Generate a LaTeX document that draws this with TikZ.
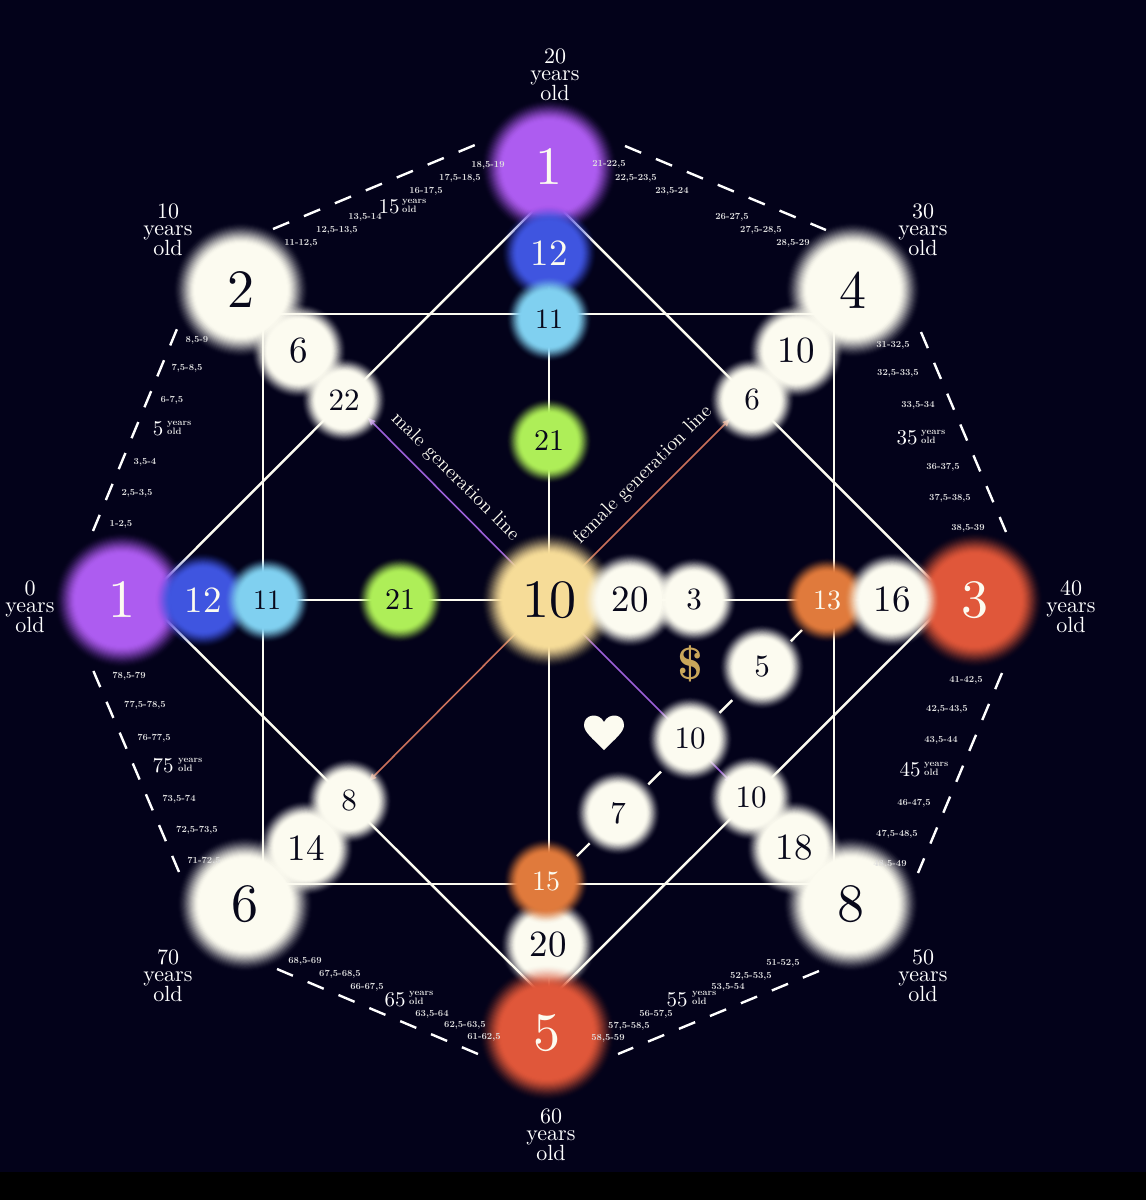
\documentclass[tikz,border=0pt]{standalone}
\usepackage{fontspec}
\setmainfont{lmroman10-regular.otf}
\newfontfamily\boldrm{lmroman10-bold.otf}
\usetikzlibrary{arrows.meta}
\definecolor{cBack}{HTML}{03021A}
\definecolor{cPurple}{HTML}{AD5CF0}
\definecolor{cBlue}{HTML}{3F55E0}
\definecolor{cRed}{HTML}{E0573A}
\definecolor{cCream}{HTML}{FCFBF0}
\definecolor{cSand}{HTML}{F6DC98}
\definecolor{cOrange}{HTML}{E07A3C}
\definecolor{cCyan}{HTML}{80D0F0}
\definecolor{cGreen}{HTML}{AEEE58}
\definecolor{cGold}{HTML}{C9A65A}
\definecolor{cInk}{HTML}{08081A}
\definecolor{cMaleLine}{HTML}{9B5FD8}
\definecolor{cFemaleLine}{HTML}{C9705A}
\definecolor{cSmall}{HTML}{DEDEDE}
% outer radius, inner radius, font size, name, centre, fill, text colour, label
\newcommand\softdisc[8]{%
  \foreach \k in {1,...,22}{%
    \pgfmathsetmacro\rr{#1-(\k-1)*(#1-#2)/21}%
    \pgfmathsetmacro\xa{(\k-1)/22}%
    \pgfmathsetmacro\xb{\k/22}%
    \pgfmathsetmacro\ta{3*\xa*\xa-2*\xa*\xa*\xa}%
    \pgfmathsetmacro\tb{3*\xb*\xb-2*\xb*\xb*\xb}%
    \pgfmathsetmacro\aa{(\tb-\ta)/(1-\ta)}%
    \fill[#6,fill opacity=\aa] (#5) circle[radius=\rr];
  }
  \node[disclabel,text=#7,font=\fontsize{#3}{#3}\selectfont] (#4) at (#5) {#8};
}
\newcommand\bigdisc{\softdisc{68}{46}{54}}
\newcommand\middisc{\softdisc{48}{32}{37}}
\newcommand\smalldisc{\softdisc{43}{28}{31}}
\tikzset{
  x=1pt,y=-1pt,
  disclabel/.style={circle,inner sep=0pt},
  netline/.style={draw=cCream,line width=2.4pt},
  agedash/.style={draw=white,line width=2.4pt,dash pattern=on 17.5pt off 16pt},
  malearrow/.style={draw=cMaleLine,line width=1.6pt,-{Latex[length=9pt,width=7pt]}},
  femalearrow/.style={draw=cFemaleLine,line width=1.6pt,-{Latex[length=9pt,width=7pt]}},
  agelabel/.style={text=cSmall,inner sep=0pt,yshift=-1pt,font=\boldrm\fontsize{9.3}{10}\selectfont},
  midage/.style={text=white,inner sep=0pt,font=\fontsize{21}{21}\selectfont},
  yearsold/.style={text=cSmall,inner sep=0pt,anchor=west,align=left,font=\boldrm\fontsize{9.3}{9.6}\selectfont},
  corner/.style={text=white,inner sep=0pt,align=center,font=\fontsize{22}{16.4}\selectfont},
  linelabel/.style={text=cCream,inner sep=0pt,font=\fontsize{19.5}{20}\selectfont},
}
\begin{document}
\begin{tikzpicture}
\useasboundingbox (0,0) rectangle (1146,1200);
\fill[cBack] (0,0) rectangle (1146,1172);
\fill[black] (0,1172) rectangle (1146,1200);

% network anchors
\coordinate (dT) at (548,196);
\coordinate (dR) at (950.5,599);
\coordinate (dB) at (548,1001);
\coordinate (dL) at (145.5,599);
\coordinate (sTL) at (263,314);
\coordinate (sTR) at (834,314);
\coordinate (sBR) at (834,884);
\coordinate (sBL) at (263,884);
\coordinate (cC) at (549,600);
\coordinate (cT) at (549,253);
\coordinate (cB) at (549,1001);
\coordinate (cL) at (160,600);
\coordinate (cR) at (940,600);
\coordinate (mTip) at (367,417);
\coordinate (fTip) at (731,418);
\coordinate (mTipB) at (733,784);
\coordinate (fTipB) at (368,782);
\coordinate (gA) at (577,856);
\coordinate (gB) at (802,630);

\draw[netline] (dT) -- (dR) -- (dB) -- (dL) -- cycle;
\draw[netline] (sTL) -- (sTR) -- (sBR) -- (sBL) -- cycle;
\draw[netline] (cT) -- (cB);
\draw[netline] (cL) -- (cR);
\draw[netline,dash pattern=on 18pt off 83pt] (gA) -- (gB);

% outer dashes
\coordinate (oa1) at (273,229);  \coordinate (oa2) at (475,145);
\coordinate (ob1) at (625,146);  \coordinate (ob2) at (826,230);
\coordinate (oc1) at (921,332);  \coordinate (oc2) at (1006,532);
\coordinate (od1) at (1002,673); \coordinate (od2) at (918,873);
\coordinate (oe1) at (819,971);  \coordinate (oe2) at (618,1054);
\coordinate (of1) at (478,1054); \coordinate (of2) at (277,969);
\coordinate (og1) at (179,872);  \coordinate (og2) at (93,670);
\coordinate (oh1) at (93,531);   \coordinate (oh2) at (177,329);
\foreach \s in {a,b,c,d,e,f,g,h}{\draw[agedash] (o\s1) -- (o\s2);}

% discs
\bigdisc{nTop}{549,167}{cPurple}{cCream}{1}
\middisc{nT12}{549,253}{cBlue}{cCream}{12}
\softdisc{43}{28}{28}{nT11}{549,319}{cCyan}{cInk}{11}
\softdisc{43}{28}{30}{nT21}{549,441}{cGreen}{cInk}{21}

\bigdisc{nLeft}{122,600}{cPurple}{cCream}{1}
\middisc{nL12}{203,600}{cBlue}{cCream}{12}
\softdisc{43}{28}{28}{nL11}{267,600}{cCyan}{cInk}{11}
\softdisc{43}{28}{30}{nL21}{400,600}{cGreen}{cInk}{21}

\bigdisc{n2}{241,290}{cCream}{cInk}{2}
\middisc{n6a}{299,351}{cCream}{cInk}{6}
\bigdisc{n4}{853,290}{cCream}{cInk}{4}
\middisc{n10a}{796,351}{cCream}{cInk}{10}
\bigdisc{n6}{245,904}{cCream}{cInk}{6}
\middisc{n14}{306,848}{cCream}{cInk}{14}
\bigdisc{n8}{851,904}{cCream}{cInk}{8}
\middisc{n18}{794,848}{cCream}{cInk}{18}

\draw[malearrow] (cC) -- (mTip);
\draw[malearrow] (cC) -- (mTipB);
\draw[femalearrow] (cC) -- (fTip);
\draw[femalearrow] (cC) -- (fTipB);

\smalldisc{n22}{344,400}{cCream}{cInk}{22}
\smalldisc{n6b}{752,400}{cCream}{cInk}{6}
\smalldisc{n8a}{349,801}{cCream}{cInk}{8}
\smalldisc{n10c}{751,798}{cCream}{cInk}{10}

\bigdisc{nC}{549,600}{cSand}{cInk}{10}
\middisc{n20a}{630,600}{cCream}{cInk}{20}
\smalldisc{n3a}{694,600}{cCream}{cInk}{3}

\bigdisc{n3}{975,600}{cRed}{cCream}{3}
\softdisc{43}{28}{28}{n13}{827,600}{cOrange}{cCream}{13}
\middisc{n16}{892,600}{cCream}{cInk}{16}

\smalldisc{n5a}{762,667}{cCream}{cInk}{5}
\smalldisc{n10b}{690,739}{cCream}{cInk}{10}
\smalldisc{n7}{618,813}{cCream}{cInk}{7}

\middisc{n20b}{548,945}{cCream}{cInk}{20}
\bigdisc{n5}{547,1033}{cRed}{cCream}{5}
\softdisc{43}{28}{28}{n15}{546,881}{cOrange}{cCream}{15}

% symbols
\node[text=cGold,inner sep=0pt,font=\boldrm\fontsize{45}{45}\selectfont] (dollar) at (690,664) {\$};
\fill[cCream] (604,750) .. controls (592,738) and (584,732) .. (584,725)
  .. controls (584,714) and (599,712) .. (604,722)
  .. controls (609,712) and (624,714) .. (624,725)
  .. controls (624,732) and (616,738) .. (604,750) -- cycle;

% line labels
\node[linelabel,rotate=-45] (lMale) at (455,477) {male generation line};
\node[linelabel,rotate=45] (lFemale) at (643,475) {female generation line};

% corner ages
\node[corner] (c20) at (555,75) {20\\years\\old};
\node[corner] (c10) at (168,230) {10\\years\\old};
\node[corner] (c30) at (923,230) {30\\years\\old};
\node[corner] (c0) at (30,607) {0\\years\\old};
\node[corner] (c40) at (1071,607) {40\\years\\old};
\node[corner] (c70) at (168,976) {70\\years\\old};
\node[corner] (c50) at (923,976) {50\\years\\old};
\node[corner] (c60) at (551,1135) {60\\years\\old};

% mid-side ages
\foreach \i/\x/\y/\t/\xx/\yy in {
  1/389/207/15/402/206,
  2/158/429/5/167/428,
  3/907/438/35/921/437,
  4/163/766/75/178/765,
  5/910/770/45/924/769,
  6/395/1000/65/409/998,
  7/677/1000/55/692/998}{
  \node[midage] (mid\i) at (\x,\y) {\t};
  \node[yearsold] (yo\i) at (\xx,\yy) {years\\old};
}

% small ranges
\foreach \i/\x/\y/\t in {
 1/488/164/{18,5-19},2/460/177/{17,5-18,5},3/426/190/{16-17,5},4/365/216/{13,5-14},5/337/229/{12,5-13,5},6/301/242/{11-12,5},
 7/609/163/{21-22,5},8/636/177/{22,5-23,5},9/672/190/{23,5-24},10/732/216/{26-27,5},11/761/229/{27,5-28,5},12/793/242/{28,5-29},
 13/197/339/{8,5-9},14/187/367/{7,5-8,5},15/172/399/{6-7,5},16/145/461/{3,5-4},17/137/492/{2,5-3,5},18/121/523/{1-2,5},
 19/893/344/{31-32,5},20/898/372/{32,5-33,5},21/918/404/{33,5-34},22/943/466/{36-37,5},23/950/497/{37,5-38,5},24/968/527/{38,5-39},
 25/129/675/{78,5-79},26/145/704/{77,5-78,5},27/154/737/{76-77,5},28/179/798/{73,5-74},29/197/829/{72,5-73,5},30/204/860/{71-72,5},
 31/966/679/{41-42,5},32/947/708/{42,5-43,5},33/941/739/{43,5-44},34/914/802/{46-47,5},35/897/833/{47,5-48,5},36/890/863/{48,5-49},
 37/305/960/{68,5-69},38/340/973/{67,5-68,5},39/367/986/{66-67,5},40/432/1013/{63,5-64},41/465/1024/{62,5-63,5},42/484/1036/{61-62,5},
 43/783/962/{51-52,5},44/751/975/{52,5-53,5},45/728/986/{53,5-54},46/656/1013/{56-57,5},47/629/1025/{57,5-58,5},48/608/1037/{58,5-59}}{
  \node[agelabel] (r\i) at (\x,\y) {\t};
}
\end{tikzpicture}
\end{document}
